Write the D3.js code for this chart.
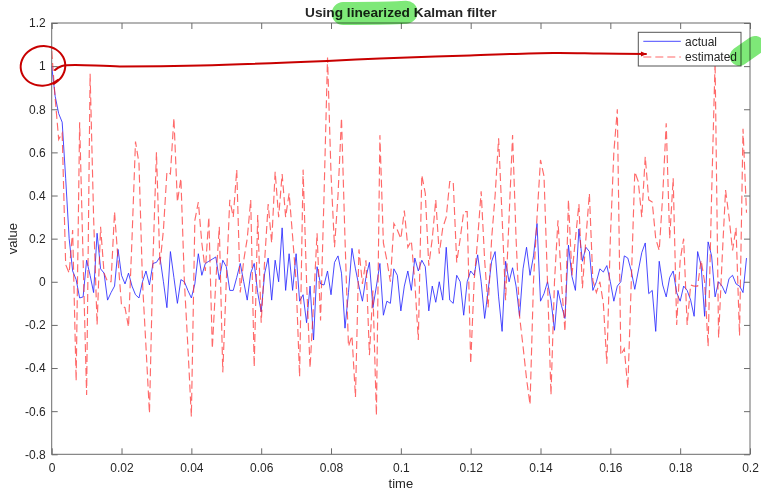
<!DOCTYPE html>
<html>
<head>
<meta charset="utf-8">
<script src="https://cdn.jsdelivr.net/npm/d3@7"></script>
<style>
  html, body { margin: 0; padding: 0; background: #fff; }
  svg { display: block; }
  text { font-family: "Liberation Sans", Arial, Helvetica, sans-serif; fill: #262626; }
</style>
</head>
<body>
<svg id="chart" width="761" height="491"></svg>
<script>
// ---------------- data ----------------
const dt = 0.001;
const actual = [
  1.00, 0.86, 0.78, 0.74, 0.48, 0.20, 0.05, 0.01, -0.075, -0.07,
  0.10, 0.03, -0.05, 0.225, 0.06, 0.04, -0.085, -0.05, -0.02, 0.15,
  0.03, -0.01, 0.04, -0.02, -0.06, -0.075, 0.0, 0.05, -0.015, 0.085,
  0.09, 0.115, 0.0, -0.12, 0.14, 0.02, -0.10, 0.01, 0.0, -0.04,
  -0.075, -0.01, 0.13, 0.03, 0.085, 0.095, 0.105, 0.115, 0.01, 0.10,
  0.07, -0.04, -0.04, 0.02, 0.085, 0.0, -0.085, 0.04, 0.085, -0.05,
  -0.14, 0.04, 0.11, -0.085, 0.10, 0.0, 0.25, -0.04, 0.13, -0.04,
  0.13, -0.09, -0.06, -0.19, -0.02, -0.27, 0.07, -0.01, -0.015, 0.05,
  -0.06, 0.09, 0.12, 0.04, -0.215, -0.05, 0.155, 0.06, -0.02, -0.09,
  0.02, 0.09, -0.12, -0.02, 0.085, -0.155, -0.09, -0.10, 0.06, 0.03,
  -0.135, -0.02, 0.05, -0.04, 0.11, 0.05, 0.10, 0.07, -0.135, -0.02,
  -0.095, 0.0, -0.085, 0.16, -0.085, -0.10, 0.03, 0.0, -0.155, 0.0,
  0.05, 0.03, 0.125, 0.0, -0.17, -0.04, 0.095, 0.14, -0.07, -0.23,
  0.095, 0.0, 0.065, -0.02, -0.16, 0.06, 0.16, 0.03, 0.12, 0.27,
  -0.09, -0.055, 0.0, -0.085, -0.225, -0.04, -0.11, -0.17, 0.17, 0.025,
  -0.04, 0.245, 0.095, 0.16, 0.14, -0.04, 0.0, 0.06, 0.045, 0.075,
  0.0, -0.09, -0.02, 0.0, 0.12, 0.11, 0.05, -0.035, 0.05, 0.135,
  0.18, -0.055, -0.04, -0.23, 0.095, -0.015, -0.07, 0.02, 0.05, -0.05,
  -0.09, -0.02, -0.04, -0.085, -0.16, 0.14, 0.075, -0.16, 0.185, 0.12,
  -0.07, 0.0, -0.02, -0.055, 0.015, 0.03, -0.01, -0.02, -0.05, 0.11
];
const estimated = [
  1.07, 0.85, 0.66, 0.69, 0.08, 0.04, 0.24, -0.46, 0.74, 0.10,
  -0.525, 0.965, 0.30, -0.20, 0.255, 0.04, 0.0, 0.0, 0.325, 0.10,
  -0.11, -0.12, -0.21, 0.20, 0.65, 0.55, 0.0, -0.30, -0.61, 0.10,
  0.60, 0.08, 0.24, 0.51, 0.50, 0.76, 0.37, 0.48, 0.0, -0.30,
  -0.625, 0.285, 0.37, 0.18, 0.05, 0.30, -0.31, 0.0, 0.255, -0.42,
  0.0, 0.38, 0.30, 0.52, -0.05, 0.10, 0.20, 0.38, -0.395, 0.31,
  -0.19, 0.10, 0.36, 0.18, 0.51, 0.30, 0.50, 0.30, 0.41, 0.21,
  0.0, -0.44, 0.52, 0.0, -0.40, -0.10, 0.225, -0.18, 0.40, 1.04,
  0.50, 0.16, 0.40, 0.76, 0.20, -0.30, -0.25, -0.535, 0.15, -0.01,
  0.10, -0.34, -0.04, -0.62, 0.68, 0.18, 0.10, 0.0, 0.27, 0.24,
  0.20, 0.33, 0.16, 0.19, 0.0, -0.27, 0.495, 0.41, 0.075, 0.20,
  0.38, 0.13, 0.25, 0.30, 0.465, 0.465, 0.09, 0.20, 0.325, 0.325,
  -0.38, 0.005, 0.20, 0.42, 0.10, -0.12, 0.20, 0.40, 0.665, 0.30,
  -0.085, 0.30, 0.68, 0.20, -0.16, -0.30, -0.45, -0.57, 0.005, 0.30,
  0.565, 0.49, 0.0, -0.525, 0.0, 0.285, 0.0, -0.23, 0.38, 0.03,
  0.20, 0.36, -0.03, 0.20, 0.41, 0.005, -0.05, 0.0, -0.10, -0.38,
  0.20, 0.60, 0.80, -0.34, -0.31, -0.495, 0.0, 0.51, 0.465, 0.30,
  0.58, 0.38, 0.37, 0.20, 0.145, 0.40, 0.735, 0.20, 0.48, -0.20,
  0.10, 0.20, -0.20, -0.015, -0.02, -0.02, 0.10, 0.0, -0.30, 0.40,
  1.02, -0.26, 0.10, 0.425, 0.30, 0.145, 0.25, -0.25, 0.71, 0.32
];
const time = actual.map((_, i) => i * dt);

const xTicks = [0, 0.02, 0.04, 0.06, 0.08, 0.1, 0.12, 0.14, 0.16, 0.18, 0.2];
const xTickLabels = ["0", "0.02", "0.04", "0.06", "0.08", "0.1", "0.12", "0.14", "0.16", "0.18", "0.2"];
const yTicks = [-0.8, -0.6, -0.4, -0.2, 0, 0.2, 0.4, 0.6, 0.8, 1, 1.2];
const yTickLabels = ["-0.8", "-0.6", "-0.4", "-0.2", "0", "0.2", "0.4", "0.6", "0.8", "1", "1.2"];
const seriesNames = ["actual", "estimated"];
const titleText = "Using linearized Kalman filter";
const xLabelText = "time";
const yLabelText = "value";

// hand-drawn annotations (in data units)
const annoLine = [
  [0.00095, 0.982], [0.00295, 1.001], [0.0196, 0.9986], [0.0425, 1.0032],
  [0.0789, 1.0241], [0.0940, 1.0357], [0.1198, 1.0497], [0.1436, 1.0613],
  [0.1570, 1.0589], [0.1702, 1.0566]
];
const annoCircle = { t: -0.0025, v: 1.0, rt: 0.0064, rv: 0.09 };
const highlightTitle = [[0.0835, 1.2440], [0.0990, 1.2480], [0.1015, 1.2500]];
const highlightRight = [[0.1969, 1.0450], [0.2014, 1.0960]];

// ---------------- chart ----------------
const svg = d3.select("#chart");
const W = 761, H = 491;
const m = { left: 51.7, right: 11, top: 23, bottom: 36.7 };
const x = d3.scaleLinear().domain([0, 0.2]).range([m.left, W - m.right]);
const y = d3.scaleLinear().domain([-0.8, 1.2]).range([H - m.bottom, m.top]);

svg.append("rect").attr("width", W).attr("height", H).attr("fill", "#fff");

const hl = d3.line().x(d => x(d[0])).y(d => y(d[1])).curve(d3.curveCatmullRom);

const axisColor = "#6b6b6b";
const tickLen = 6;

function styleAxis(g) {
  g.select(".domain").remove();
  g.selectAll(".tick line").attr("stroke", axisColor).attr("stroke-width", 1);
  g.selectAll(".tick text").attr("fill", "#262626").style("font-size", "12px")
    .style("font-family", '"Liberation Sans", Arial, Helvetica, sans-serif');
}

svg.append("g").attr("transform", `translate(0,${y(-0.8)})`)
  .call(d3.axisBottom(x).tickValues(xTicks).tickFormat((d, i) => xTickLabels[i])
    .tickSizeInner(-tickLen).tickSizeOuter(0).tickPadding(9))
  .call(styleAxis);
svg.append("g").attr("transform", `translate(0,${y(1.2)})`)
  .call(d3.axisTop(x).tickValues(xTicks).tickFormat("")
    .tickSizeInner(-tickLen).tickSizeOuter(0))
  .call(styleAxis);
svg.append("g").attr("transform", `translate(${x(0)},0)`)
  .call(d3.axisLeft(y).tickValues(yTicks).tickFormat((d, i) => yTickLabels[i])
    .tickSizeInner(-tickLen).tickSizeOuter(0).tickPadding(6))
  .call(styleAxis);
svg.append("g").attr("transform", `translate(${x(0.2)},0)`)
  .call(d3.axisRight(y).tickValues(yTicks).tickFormat("")
    .tickSizeInner(-tickLen).tickSizeOuter(0))
  .call(styleAxis);

// box
svg.append("rect")
  .attr("x", x(0)).attr("y", y(1.2))
  .attr("width", x(0.2) - x(0)).attr("height", y(-0.8) - y(1.2))
  .attr("fill", "none").attr("stroke", axisColor).attr("stroke-width", 1);

// clip
svg.append("clipPath").attr("id", "clip").append("rect")
  .attr("x", x(0)).attr("y", y(1.2))
  .attr("width", x(0.2) - x(0)).attr("height", y(-0.8) - y(1.2));

const blueStyle = { stroke: "#2a2aff", width: 1.0, opacity: 0.85 };
const redStyle = { stroke: "#ff2a2a", width: 1.15, opacity: 0.7, dash: "8,4" };

const line = d3.line().x((d, i) => x(time[i])).y(d => y(d));
const plotG = svg.append("g").attr("clip-path", "url(#clip)");
plotG.append("path").datum(actual)
  .attr("d", line).attr("fill", "none")
  .attr("stroke", blueStyle.stroke).attr("stroke-width", blueStyle.width).attr("stroke-opacity", blueStyle.opacity);
plotG.append("path").datum(estimated)
  .attr("d", line).attr("fill", "none")
  .attr("stroke", redStyle.stroke).attr("stroke-width", redStyle.width).attr("stroke-opacity", redStyle.opacity)
  .attr("stroke-dasharray", redStyle.dash);

// labels
svg.append("text").attr("x", (x(0) + x(0.2)) / 2).attr("y", 17)
  .attr("text-anchor", "middle").style("font-weight", "bold").style("font-size", "13.7px")
  .text(titleText);
svg.append("text").attr("x", (x(0) + x(0.2)) / 2).attr("y", 488)
  .attr("text-anchor", "middle").style("font-size", "13px").text(xLabelText);
svg.append("text")
  .attr("transform", `translate(17,${(y(-0.8) + y(1.2)) / 2}) rotate(-90)`)
  .attr("text-anchor", "middle").style("font-size", "13px").text(yLabelText);

// legend
const lg = svg.append("g").attr("transform", `translate(${x(0.2) - 111.7},${y(1.2) + 9.3})`);
lg.append("rect").attr("width", 102.7).attr("height", 33.7)
  .attr("fill", "#fff").attr("stroke", "#555").attr("stroke-width", 1);
lg.append("line").attr("x1", 5).attr("x2", 42.5).attr("y1", 9).attr("y2", 9)
  .attr("stroke", blueStyle.stroke).attr("stroke-width", blueStyle.width).attr("stroke-opacity", blueStyle.opacity);
lg.append("line").attr("x1", 5).attr("x2", 42.5).attr("y1", 24.7).attr("y2", 24.7)
  .attr("stroke", redStyle.stroke).attr("stroke-width", redStyle.width).attr("stroke-opacity", redStyle.opacity)
  .attr("stroke-dasharray", redStyle.dash);
lg.append("text").attr("x", 46.7).attr("y", 13.3).style("font-size", "12px").text(seriesNames[0]);
lg.append("text").attr("x", 46.7).attr("y", 29).style("font-size", "12px").text(seriesNames[1]);

// hand-drawn annotations
const ellipsePts = d3.range(0, 1.08, 0.04).map(f => {
  const a = -Math.PI * 0.3 - f * 2 * Math.PI;
  return [annoCircle.t + annoCircle.rt * Math.cos(a), annoCircle.v + annoCircle.rv * Math.sin(a) * (1 + 0.05 * f)];
});
const curve = d3.line().x(d => x(d[0])).y(d => y(d[1])).curve(d3.curveCatmullRom);
svg.append("path").datum(ellipsePts).attr("d", curve)
  .attr("fill", "none").attr("stroke", "#c80000").attr("stroke-width", 2)
  .attr("stroke-linecap", "round").attr("transform", "rotate(-8," + x(annoCircle.t) + "," + y(annoCircle.v) + ")");
svg.append("path").datum(annoLine).attr("d", curve)
  .attr("fill", "none").attr("stroke", "#c80000").attr("stroke-width", 2)
  .attr("stroke-linecap", "round");
const last = annoLine[annoLine.length - 1];
svg.append("path")
  .attr("d", `M${x(last[0]) - 5},${y(last[1]) - 2.5} L${x(last[0]) + 1},${y(last[1])} L${x(last[0]) - 5},${y(last[1]) + 2.5} Z`)
  .attr("fill", "#c80000");

// green highlights
[highlightTitle, highlightRight].forEach((pts, i) => {
  svg.append("path").datum(pts).attr("d", hl)
    .attr("fill", "none").attr("stroke", "#7ee878")
    .attr("stroke-width", i === 0 ? 23 : 19).attr("stroke-linecap", "round")
    .style("mix-blend-mode", "multiply");
});
</script>
</body>
</html>
